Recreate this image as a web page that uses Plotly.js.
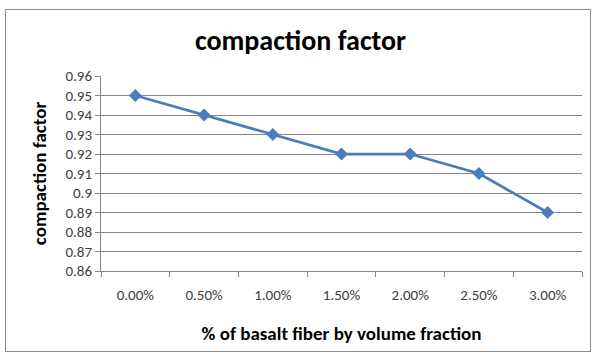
<!DOCTYPE html>
<html><head><meta charset="utf-8">
<script src="https://cdn.plot.ly/plotly-3.0.1.min.js"></script>
<style>
html,body{margin:0;padding:0;background:#fff;}
#frame{position:absolute;left:5px;top:9px;width:586px;height:343px;border:1px solid #8c8c8c;box-sizing:border-box;}
#chart{position:absolute;left:0;top:0;width:595px;height:356px;}
</style>
</head><body>
<div id="frame"></div>
<div id="chart"></div>
<script>
const categories = ["0.00%","0.50%","1.00%","1.50%","2.00%","2.50%","3.00%"];
const compactionFactor = [0.95,0.94,0.93,0.92,0.92,0.91,0.89];
const yTicks = [0.86,0.87,0.88,0.89,0.9,0.91,0.92,0.93,0.94,0.95,0.96];
const yTickText = ["0.86","0.87","0.88","0.89","0.9","0.91","0.92","0.93","0.94","0.95","0.96"];

const FONT = 'Carlito, Calibri, Lato, sans-serif';
const trace = {
  x: categories, y: compactionFactor, type: 'scatter', mode: 'lines+markers',
  line: {color: '#4a7ebb', width: 2.75},
  marker: {symbol: 'diamond', size: 10, color: '#4a7ebb'},
  hoverinfo: 'skip'
};
const layout = {
  width: 595, height: 356,
  margin: {l: 101, r: 13, t: 76, b: 85},
  paper_bgcolor: 'rgba(0,0,0,0)', plot_bgcolor: 'rgba(0,0,0,0)',
  showlegend: false,
  font: {family: FONT, color: '#404040'},
  title: {text: '<b>compaction factor</b>', x: 0.505, xanchor: 'center', y: 0.888, yanchor: 'middle',
          font: {size: 28, color: '#000', family: FONT}},
  xaxis: {
    type: 'category', tickson: 'boundaries', ticks: 'outside', ticklen: 5, tickcolor: '#868686',
    showline: true, linecolor: '#868686', linewidth: 1, showgrid: false,
    tickfont: {size: 15, color: '#404040'}, ticklabelstandoff: 10,
    range: [-0.5, 6.5],
    title: {text: '<b>% of basalt fiber by volume fraction</b>', standoff: 23,
            font: {size: 19, color: '#000'}}
  },
  yaxis: {
    range: [0.86, 0.96], tickvals: yTicks, ticktext: yTickText,
    ticks: 'outside', ticklen: 5, tickcolor: '#868686',
    showline: true, linecolor: '#868686', linewidth: 1,
    showgrid: true, gridcolor: '#868686', gridwidth: 1, zeroline: false,
    tickfont: {size: 15, color: '#404040'},
    title: {text: '<b>compaction factor</b>', standoff: 13, font: {size: 19, color: '#000'}}
  }
};
Plotly.newPlot('chart', [trace], layout, {displayModeBar: false, staticPlot: true});
</script>
</body></html>
